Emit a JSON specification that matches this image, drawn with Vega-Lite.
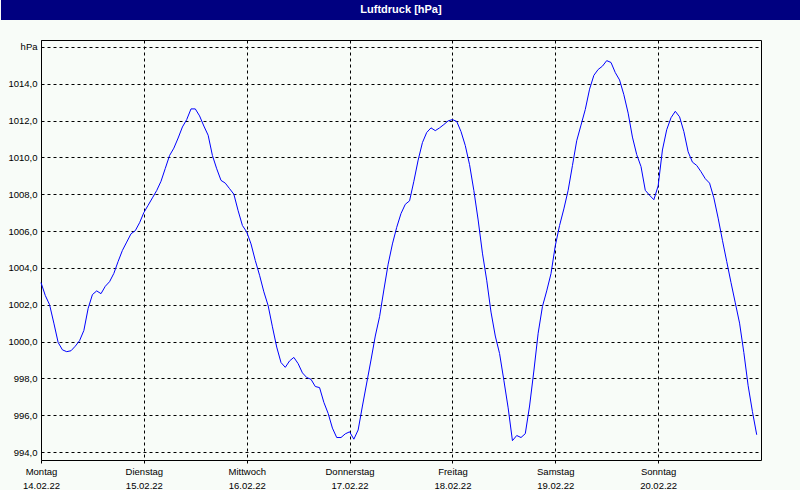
{
  "$schema": "https://vega.github.io/schema/vega-lite/v6.json",
  "background": "#F8FCF8",
  "padding": 0,
  "spacing": 20,
  "bounds": "flush",
  "config": {
    "font": "Liberation Sans",
    "view": {"stroke": "#000000"}
  },
  "vconcat": [
    {
      "width": 800,
      "height": 20,
      "view": {"fill": "#000080", "stroke": null},
      "data": {"values": [{"titel": "Luftdruck [hPa]"}]},
      "mark": {"type": "text", "color": "#FFFFFF", "font": "Liberation Sans", "fontSize": 11, "fontWeight": "bold", "baseline": "middle", "align": "center"},
      "encoding": {"text": {"field": "titel", "type": "nominal"}}
    },
    {
      "spacing": 0,
      "bounds": "flush",
      "hconcat": [
        {
          "width": 40,
          "height": 420,
          "view": {"stroke": null, "fill": null},
          "data": {"values": []},
          "mark": {"type": "point", "opacity": 0},
          "encoding": {}
        },
        {
          "width": 720,
          "height": 420,
          "view": {"stroke": "#000000", "strokeWidth": 1, "fill": "#F8FCF8"},
          "data": {"values": [
            {"zeit": "2022-02-14T00:00", "druck": 1003.2}, {"zeit": "2022-02-14T01:00", "druck": 1002.5}, {"zeit": "2022-02-14T02:00", "druck": 1002.0}, {"zeit": "2022-02-14T03:00", "druck": 1001.0},
            {"zeit": "2022-02-14T04:00", "druck": 999.95}, {"zeit": "2022-02-14T05:00", "druck": 999.55}, {"zeit": "2022-02-14T06:00", "druck": 999.45}, {"zeit": "2022-02-14T07:00", "druck": 999.5},
            {"zeit": "2022-02-14T08:00", "druck": 999.75}, {"zeit": "2022-02-14T09:00", "druck": 1000.05}, {"zeit": "2022-02-14T10:00", "druck": 1000.6}, {"zeit": "2022-02-14T11:00", "druck": 1001.8},
            {"zeit": "2022-02-14T12:00", "druck": 1002.55}, {"zeit": "2022-02-14T13:00", "druck": 1002.75}, {"zeit": "2022-02-14T14:00", "druck": 1002.6}, {"zeit": "2022-02-14T15:00", "druck": 1003.0},
            {"zeit": "2022-02-14T16:00", "druck": 1003.25}, {"zeit": "2022-02-14T17:00", "druck": 1003.7}, {"zeit": "2022-02-14T18:00", "druck": 1004.35}, {"zeit": "2022-02-14T19:00", "druck": 1004.95},
            {"zeit": "2022-02-14T20:00", "druck": 1005.4}, {"zeit": "2022-02-14T21:00", "druck": 1005.85}, {"zeit": "2022-02-14T22:00", "druck": 1006.02}, {"zeit": "2022-02-14T23:00", "druck": 1006.45},
            {"zeit": "2022-02-15T00:00", "druck": 1007.0}, {"zeit": "2022-02-15T01:00", "druck": 1007.4}, {"zeit": "2022-02-15T02:00", "druck": 1007.8}, {"zeit": "2022-02-15T03:00", "druck": 1008.2},
            {"zeit": "2022-02-15T04:00", "druck": 1008.7}, {"zeit": "2022-02-15T05:00", "druck": 1009.4}, {"zeit": "2022-02-15T06:00", "druck": 1010.1}, {"zeit": "2022-02-15T07:00", "druck": 1010.5},
            {"zeit": "2022-02-15T08:00", "druck": 1011.05}, {"zeit": "2022-02-15T09:00", "druck": 1011.65}, {"zeit": "2022-02-15T10:00", "druck": 1012.05}, {"zeit": "2022-02-15T11:00", "druck": 1012.63},
            {"zeit": "2022-02-15T12:00", "druck": 1012.63}, {"zeit": "2022-02-15T13:00", "druck": 1012.25}, {"zeit": "2022-02-15T14:00", "druck": 1011.7}, {"zeit": "2022-02-15T15:00", "druck": 1011.2},
            {"zeit": "2022-02-15T16:00", "druck": 1010.1}, {"zeit": "2022-02-15T17:00", "druck": 1009.38}, {"zeit": "2022-02-15T18:00", "druck": 1008.75}, {"zeit": "2022-02-15T19:00", "druck": 1008.6},
            {"zeit": "2022-02-15T20:00", "druck": 1008.3}, {"zeit": "2022-02-15T21:00", "druck": 1008.0}, {"zeit": "2022-02-15T22:00", "druck": 1007.1}, {"zeit": "2022-02-15T23:00", "druck": 1006.3},
            {"zeit": "2022-02-16T00:00", "druck": 1005.95}, {"zeit": "2022-02-16T01:00", "druck": 1005.3}, {"zeit": "2022-02-16T02:00", "druck": 1004.4}, {"zeit": "2022-02-16T03:00", "druck": 1003.6},
            {"zeit": "2022-02-16T04:00", "druck": 1002.7}, {"zeit": "2022-02-16T05:00", "druck": 1001.95}, {"zeit": "2022-02-16T06:00", "druck": 1000.8}, {"zeit": "2022-02-16T07:00", "druck": 999.7},
            {"zeit": "2022-02-16T08:00", "druck": 998.86}, {"zeit": "2022-02-16T09:00", "druck": 998.6}, {"zeit": "2022-02-16T10:00", "druck": 998.95}, {"zeit": "2022-02-16T11:00", "druck": 999.14},
            {"zeit": "2022-02-16T12:00", "druck": 998.8}, {"zeit": "2022-02-16T13:00", "druck": 998.3}, {"zeit": "2022-02-16T14:00", "druck": 998.05}, {"zeit": "2022-02-16T15:00", "druck": 997.95},
            {"zeit": "2022-02-16T16:00", "druck": 997.56}, {"zeit": "2022-02-16T17:00", "druck": 997.5}, {"zeit": "2022-02-16T18:00", "druck": 996.7}, {"zeit": "2022-02-16T19:00", "druck": 996.1},
            {"zeit": "2022-02-16T20:00", "druck": 995.3}, {"zeit": "2022-02-16T21:00", "druck": 994.79}, {"zeit": "2022-02-16T22:00", "druck": 994.79}, {"zeit": "2022-02-16T23:00", "druck": 994.99},
            {"zeit": "2022-02-17T00:00", "druck": 995.1}, {"zeit": "2022-02-17T01:00", "druck": 994.7}, {"zeit": "2022-02-17T02:00", "druck": 995.2}, {"zeit": "2022-02-17T03:00", "druck": 996.5},
            {"zeit": "2022-02-17T04:00", "druck": 997.75}, {"zeit": "2022-02-17T05:00", "druck": 999.0}, {"zeit": "2022-02-17T06:00", "druck": 1000.3}, {"zeit": "2022-02-17T07:00", "druck": 1001.35},
            {"zeit": "2022-02-17T08:00", "druck": 1002.8}, {"zeit": "2022-02-17T09:00", "druck": 1004.2}, {"zeit": "2022-02-17T10:00", "druck": 1005.3}, {"zeit": "2022-02-17T11:00", "druck": 1006.2},
            {"zeit": "2022-02-17T12:00", "druck": 1006.95}, {"zeit": "2022-02-17T13:00", "druck": 1007.45}, {"zeit": "2022-02-17T14:00", "druck": 1007.64}, {"zeit": "2022-02-17T15:00", "druck": 1008.7},
            {"zeit": "2022-02-17T16:00", "druck": 1009.85}, {"zeit": "2022-02-17T17:00", "druck": 1010.8}, {"zeit": "2022-02-17T18:00", "druck": 1011.35}, {"zeit": "2022-02-17T19:00", "druck": 1011.6},
            {"zeit": "2022-02-17T20:00", "druck": 1011.45}, {"zeit": "2022-02-17T21:00", "druck": 1011.6}, {"zeit": "2022-02-17T22:00", "druck": 1011.78}, {"zeit": "2022-02-17T23:00", "druck": 1011.98},
            {"zeit": "2022-02-18T00:00", "druck": 1012.05}, {"zeit": "2022-02-18T01:00", "druck": 1011.95}, {"zeit": "2022-02-18T02:00", "druck": 1011.4}, {"zeit": "2022-02-18T03:00", "druck": 1010.64},
            {"zeit": "2022-02-18T04:00", "druck": 1009.6}, {"zeit": "2022-02-18T05:00", "druck": 1008.2}, {"zeit": "2022-02-18T06:00", "druck": 1006.6}, {"zeit": "2022-02-18T07:00", "druck": 1004.8},
            {"zeit": "2022-02-18T08:00", "druck": 1003.33}, {"zeit": "2022-02-18T09:00", "druck": 1001.6}, {"zeit": "2022-02-18T10:00", "druck": 1000.3}, {"zeit": "2022-02-18T11:00", "druck": 999.35},
            {"zeit": "2022-02-18T12:00", "druck": 997.9}, {"zeit": "2022-02-18T13:00", "druck": 996.4}, {"zeit": "2022-02-18T14:00", "druck": 994.62}, {"zeit": "2022-02-18T15:00", "druck": 994.9},
            {"zeit": "2022-02-18T16:00", "druck": 994.79}, {"zeit": "2022-02-18T17:00", "druck": 995.0}, {"zeit": "2022-02-18T18:00", "druck": 996.5}, {"zeit": "2022-02-18T19:00", "druck": 998.4},
            {"zeit": "2022-02-18T20:00", "druck": 1000.45}, {"zeit": "2022-02-18T21:00", "druck": 1001.9}, {"zeit": "2022-02-18T22:00", "druck": 1002.75}, {"zeit": "2022-02-18T23:00", "druck": 1003.69},
            {"zeit": "2022-02-19T00:00", "druck": 1005.2}, {"zeit": "2022-02-19T01:00", "druck": 1006.3}, {"zeit": "2022-02-19T02:00", "druck": 1007.2}, {"zeit": "2022-02-19T03:00", "druck": 1008.21},
            {"zeit": "2022-02-19T04:00", "druck": 1009.55}, {"zeit": "2022-02-19T05:00", "druck": 1010.9}, {"zeit": "2022-02-19T06:00", "druck": 1011.75}, {"zeit": "2022-02-19T07:00", "druck": 1012.6},
            {"zeit": "2022-02-19T08:00", "druck": 1013.7}, {"zeit": "2022-02-19T09:00", "druck": 1014.45}, {"zeit": "2022-02-19T10:00", "druck": 1014.77}, {"zeit": "2022-02-19T11:00", "druck": 1014.95},
            {"zeit": "2022-02-19T12:00", "druck": 1015.25}, {"zeit": "2022-02-19T13:00", "druck": 1015.15}, {"zeit": "2022-02-19T14:00", "druck": 1014.6}, {"zeit": "2022-02-19T15:00", "druck": 1014.2},
            {"zeit": "2022-02-19T16:00", "druck": 1013.4}, {"zeit": "2022-02-19T17:00", "druck": 1012.4}, {"zeit": "2022-02-19T18:00", "druck": 1011.1}, {"zeit": "2022-02-19T19:00", "druck": 1010.15},
            {"zeit": "2022-02-19T20:00", "druck": 1009.5}, {"zeit": "2022-02-19T21:00", "druck": 1008.21}, {"zeit": "2022-02-19T22:00", "druck": 1007.94}, {"zeit": "2022-02-19T23:00", "druck": 1007.7},
            {"zeit": "2022-02-20T00:00", "druck": 1008.45}, {"zeit": "2022-02-20T01:00", "druck": 1010.4}, {"zeit": "2022-02-20T02:00", "druck": 1011.5}, {"zeit": "2022-02-20T03:00", "druck": 1012.15},
            {"zeit": "2022-02-20T04:00", "druck": 1012.5}, {"zeit": "2022-02-20T05:00", "druck": 1012.2}, {"zeit": "2022-02-20T06:00", "druck": 1011.4}, {"zeit": "2022-02-20T07:00", "druck": 1010.3},
            {"zeit": "2022-02-20T08:00", "druck": 1009.74}, {"zeit": "2022-02-20T09:00", "druck": 1009.56}, {"zeit": "2022-02-20T10:00", "druck": 1009.22}, {"zeit": "2022-02-20T11:00", "druck": 1008.84},
            {"zeit": "2022-02-20T12:00", "druck": 1008.6}, {"zeit": "2022-02-20T13:00", "druck": 1007.8}, {"zeit": "2022-02-20T14:00", "druck": 1006.7}, {"zeit": "2022-02-20T15:00", "druck": 1005.5},
            {"zeit": "2022-02-20T16:00", "druck": 1004.35}, {"zeit": "2022-02-20T17:00", "druck": 1003.2}, {"zeit": "2022-02-20T18:00", "druck": 1002.1}, {"zeit": "2022-02-20T19:00", "druck": 1001.0},
            {"zeit": "2022-02-20T20:00", "druck": 999.4}, {"zeit": "2022-02-20T21:00", "druck": 997.6}, {"zeit": "2022-02-20T22:00", "druck": 996.2}, {"zeit": "2022-02-20T23:00", "druck": 994.94}
          ]},
          "mark": {"type": "line", "color": "#0000FF", "strokeWidth": 1, "interpolate": "linear"},
          "encoding": {
            "x": {
              "field": "zeit", "type": "temporal", "title": null,
              "scale": {"domain": [{"year": 2022, "month": 2, "date": 14}, {"year": 2022, "month": 2, "date": 21}], "nice": false},
              "axis": {
                "values": [
                  {"year": 2022, "month": 2, "date": 14}, {"year": 2022, "month": 2, "date": 15}, {"year": 2022, "month": 2, "date": 16},
                  {"year": 2022, "month": 2, "date": 17}, {"year": 2022, "month": 2, "date": 18}, {"year": 2022, "month": 2, "date": 19},
                  {"year": 2022, "month": 2, "date": 20}
                ],
                "labelExpr": "[['Sonntag','Montag','Dienstag','Mittwoch','Donnerstag','Freitag','Samstag'][day(datum.value)], timeFormat(datum.value, '%d.%m.%y')]",
                "domain": false,
                "ticks": true, "tickSize": 3, "tickColor": "#000000", "tickWidth": 1,
                "grid": true, "gridColor": "#000000", "gridOpacity": 1, "gridWidth": 1, "gridDash": [3, 3],
                "labelFont": "Liberation Sans", "labelFontSize": 9.5, "labelColor": "#000000",
                "labelLineHeight": 14, "labelPadding": 3,
                "labelFlush": false, "labelOverlap": false, "labelBound": false, "labelAlign": "center"
              }
            },
            "y": {
              "field": "druck", "type": "quantitative", "title": null,
              "scale": {"domain": [993.57, 1016.37], "nice": false, "zero": false},
              "axis": {
                "values": [994, 996, 998, 1000, 1002, 1004, 1006, 1008, 1010, 1012, 1014, 1016],
                "labelExpr": "datum.value == 1016 ? 'hPa' : replace(format(datum.value, '.1f'), '.', ',')",
                "domain": false, "ticks": false,
                "grid": true, "gridColor": "#000000", "gridOpacity": 1, "gridWidth": 1, "gridDash": [3, 3],
                "labelFont": "Liberation Sans", "labelFontSize": 9.5, "labelColor": "#000000",
                "labelPadding": 4, "minExtent": 40, "maxExtent": 40,
                "labelFlush": false, "labelOverlap": false
              }
            }
          }
        }
      ]
    }
  ]
}
